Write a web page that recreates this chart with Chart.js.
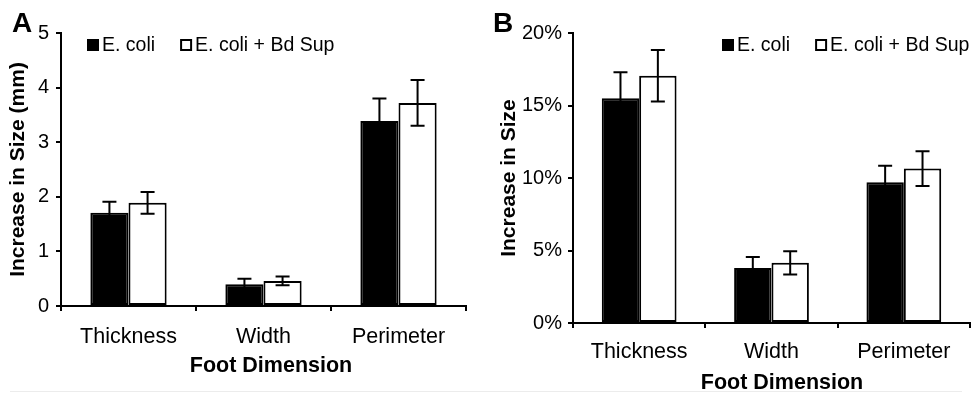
<!DOCTYPE html>
<html>
<head>
<meta charset="utf-8">
<script src="https://cdn.jsdelivr.net/npm/chart.js@4.4.1/dist/chart.umd.min.js"></script>
<style>
  html, body { margin: 0; padding: 0; background: #fff; }
  #wrap { position: relative; width: 971px; height: 395px; display: flex; }
  #rule { position: absolute; left: 10px; top: 391px; width: 952px; height: 1px; background: #ececec; }
</style>
</head>
<body>
<div id="wrap">
  <div style="width:485px;height:395px"><canvas id="chartA"></canvas></div>
  <div style="width:486px;height:395px"><canvas id="chartB"></canvas></div>
  <div id="rule"></div>
</div>
<script>
// datos
const categories = ['Thickness', 'Width', 'Perimeter'];
const seriesNames = ['E. coli', 'E. coli + Bd Sup'];

// panel A: aumento en mm
const sizeEcoli = [1.71, 0.40, 3.39];
const sizeEcoliErr = [0.20, 0.10, 0.41];
const sizeBdSup = [1.89, 0.46, 3.72];
const sizeBdSupErr = [0.20, 0.08, 0.42];
const sizeTicks = [0, 1, 2, 3, 4, 5];

// panel B: aumento en %
const pctEcoli = [15.5, 3.8, 9.7];
const pctEcoliErr = [1.8, 0.75, 1.15];
const pctBdSup = [17.05, 4.15, 10.65];
const pctBdSupErr = [1.77, 0.8, 1.2];
const pctTicks = [0, 5, 10, 15, 20];

const FONT = "'Liberation Sans', Arial, sans-serif";
Chart.defaults.font.family = FONT;
Chart.defaults.color = '#000';
Chart.defaults.animation = false;

// barras de error
const errorBars = {
    id: 'errorBars',
    afterDatasetsDraw(chart) {
        const { ctx } = chart;
        const y = chart.scales.y;
        ctx.save();
        ctx.strokeStyle = '#000';
        ctx.lineWidth = 2;
        chart.data.datasets.forEach((ds, i) => {
            chart.getDatasetMeta(i).data.forEach((bar, j) => {
                const top = y.getPixelForValue(ds.data[j] + ds.errors[j]);
                const bot = y.getPixelForValue(ds.data[j] - ds.errors[j]);
                ctx.beginPath();
                ctx.moveTo(bar.x, top); ctx.lineTo(bar.x, bot);
                ctx.moveTo(bar.x - 7, top); ctx.lineTo(bar.x + 7, top);
                ctx.moveTo(bar.x - 7, bot); ctx.lineTo(bar.x + 7, bot);
                ctx.stroke();
            });
        });
        ctx.restore();
    },
};

// leyenda, letra del panel y título del eje x
const panelDecor = {
    id: 'panelDecor',
    afterDraw(chart, args, opts) {
        const { ctx } = chart;
        ctx.save();
        ctx.fillStyle = '#000';
        ctx.textBaseline = 'alphabetic';
        ctx.font = 'bold 28px ' + FONT;
        ctx.fillText(opts.letter, opts.letterX, 32);

        ctx.textBaseline = 'middle';
        ctx.textAlign = 'center';
        ctx.font = 'bold 21.5px ' + FONT;
        ctx.fillText('Foot Dimension', opts.xTitleX, opts.xTitleY);

        ctx.textAlign = 'left';
        ctx.font = '19.5px ' + FONT;
        let x = opts.legendX;
        const ly = opts.legendY;
        chart.data.datasets.forEach((ds) => {
            ctx.fillStyle = ds.backgroundColor;
            ctx.fillRect(x, ly - 6, 12, 12);
            ctx.lineWidth = 2;
            ctx.strokeStyle = '#000';
            ctx.strokeRect(x + 1, ly - 5, 10, 10);
            ctx.fillStyle = '#000';
            ctx.fillText(ds.label, x + 15, ly + 1);
            x += 15 + ctx.measureText(ds.label).width + 25;
        });
        ctx.restore();
    },
};

function makePanel(id, p) {
    new Chart(document.getElementById(id), {
        type: 'bar',
        data: {
            labels: categories,
            datasets: [
                { label: seriesNames[0], data: p.a, errors: p.aErr, backgroundColor: '#000' },
                { label: seriesNames[1], data: p.b, errors: p.bErr, backgroundColor: '#fff' },
            ].map((d) => Object.assign(d, {
                borderColor: '#000', borderWidth: 2, borderSkipped: false,
                barPercentage: 1, categoryPercentage: 0.565,
            })),
        },
        options: {
            responsive: true,
            maintainAspectRatio: false,
            layout: { padding: { top: 33, left: 0, right: p.padRight, bottom: 0 } },
            plugins: {
                legend: { display: false },
                tooltip: { enabled: false },
                panelDecor: {
                    letter: p.letter, letterX: p.letterX, legendX: p.legendX, legendY: 45,
                    xTitleX: p.xTitleX, xTitleY: p.xTitleY,
                },
            },
            scales: {
                x: {
                    afterFit(s) { s.height = p.xHeight; },
                    grid: { drawOnChartArea: false, drawTicks: true, tickLength: 5, color: '#000', lineWidth: 2, offset: true },
                    border: { display: true, color: '#000', width: 2 },
                    ticks: { font: { size: 21.5 }, padding: p.xTickPad, maxRotation: 0 },
                },
                y: {
                    min: p.ticks[0],
                    max: p.ticks[p.ticks.length - 1],
                    afterFit(s) { s.width = p.yWidth; },
                    afterBuildTicks(s) { s.ticks = p.ticks.map((v) => ({ value: v })); },
                    grid: { drawOnChartArea: false, drawTicks: true, tickLength: 5, color: '#000', lineWidth: 2 },
                    border: { display: true, color: '#000', width: 2 },
                    ticks: { font: { size: 20 }, padding: p.yTickPad, callback: p.fmt },
                    title: {
                        display: true, text: p.yTitle,
                        font: { size: 21, weight: 'bold' }, padding: { top: p.yTitlePad, bottom: 0 },
                    },
                },
            },
        },
        plugins: [errorBars, panelDecor],
    });
}

makePanel('chartA', {
    a: sizeEcoli, aErr: sizeEcoliErr, b: sizeBdSup, bErr: sizeBdSupErr,
    ticks: sizeTicks, fmt: (v) => v, yTitle: 'Increase in Size (mm)',
    letter: 'A', letterX: 12, legendX: 87,
    padRight: 19, yWidth: 61, xHeight: 89,
    xTickPad: 13, yTickPad: 7, yTitlePad: 6,
    xTitleX: 271, xTitleY: 366,
});

makePanel('chartB', {
    a: pctEcoli, aErr: pctEcoliErr, b: pctBdSup, bErr: pctBdSupErr,
    ticks: pctTicks, fmt: (v) => v + '%', yTitle: 'Increase in Size',
    letter: 'B', letterX: 8, legendX: 237,
    padRight: 1, yWidth: 88, xHeight: 72,
    xTickPad: 11, yTickPad: 6, yTitlePad: 12,
    xTitleX: 297, xTitleY: 383,
});
</script>
</body>
</html>
